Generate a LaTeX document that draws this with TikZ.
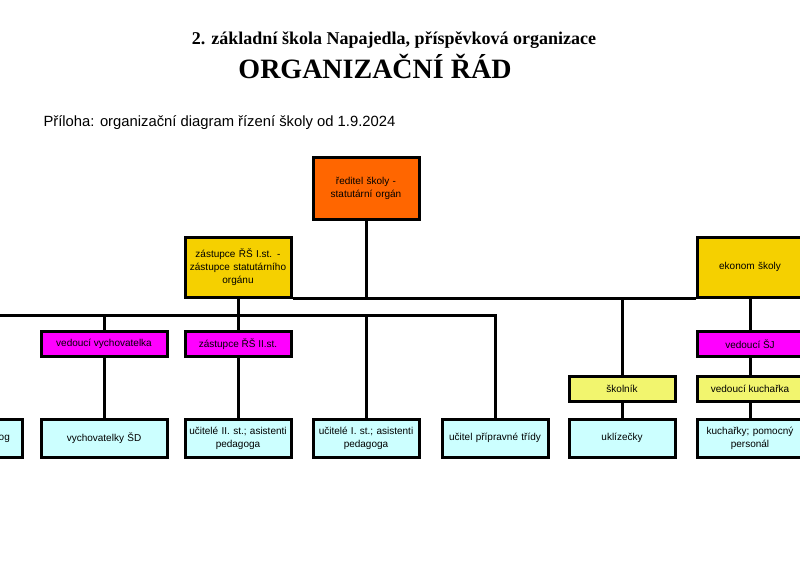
\documentclass[tikz,border=0pt]{standalone}
\usepackage{fontspec}
\setmainfont{Liberation Sans}
\newfontfamily\titlefont{Liberation Serif}
\usetikzlibrary{positioning}
\definecolor{reditelc}{HTML}{FF6600}
\definecolor{zastup}{HTML}{F5D000}
\definecolor{vedouci}{HTML}{FF00FF}
\definecolor{pomoc}{HTML}{F2F56E}
\definecolor{zamest}{HTML}{CCFFFF}
\tikzset{
    box/.style={draw, line width=3pt, minimum width=106pt, align=center,
        font=\fontsize{10}{13}\selectfont, inner sep=1pt},
    big/.style={box, minimum height=60pt, text width=104pt},
    small/.style={box, minimum height=25pt},
    low/.style={box, minimum height=38pt, text width=104pt},
    line/.style={line width=3pt}
}
\begin{document}
\begin{tikzpicture}[x=1pt,y=-1pt]
        \useasboundingbox (0,0) rectangle (800,560);
        \clip (0,0) rectangle (800,560);
        \node (nazev) at (394,40) {\titlefont\bfseries\fontsize{18}{20}\selectfont 2. základní škola Napajedla, příspěvková organizace};
        \node (rad) at (375,66) {\titlefont\bfseries\fontsize{28}{30}\selectfont ORGANIZAČNÍ ŘÁD};
        \node[anchor=west] (priloha) at (40,123) {\fontsize{14.8}{17}\selectfont Příloha: organizační diagram řízení školy od 1.9.2024};

        % vedeni
        \node[big, fill=reditelc, minimum height=62pt] (reditel) at (366,188) {ředitel školy -\\statutární orgán};
        \node[big, fill=zastup] (zrs1) at (238,267) {zástupce ŘŠ I.st. -\\zástupce statutárního\\orgánu};
        \node[big, fill=zastup] (ekonom) at (750,267) {ekonom školy};

        % stredni uroven
        \node[small, fill=vedouci, minimum width=126pt] (vychov) at (104,344) {vedoucí vychovatelka};
        \node[small, fill=vedouci] (zrs2) at (238,344) {zástupce ŘŠ II.st.};
        \node[small, fill=vedouci] (vedsj) at (750,344) {vedoucí ŠJ};
        \node[small, fill=pomoc] (skolnik) at (622,389) {školník};
        \node[small, fill=pomoc] (vedkuch) at (750,389) {vedoucí kuchařka};

        % zamestnanci
        \node[low, fill=zamest] (pedagog) at (-31,438) {speciální pedagog};
        \node[low, fill=zamest, text width=124pt] (vychovSD) at (104,438) {vychovatelky ŠD};
        \node[low, fill=zamest] (ucitele2) at (238,438) {učitelé II. st.; asistenti\\pedagoga};
        \node[low, fill=zamest] (ucitele1) at (366,438) {učitelé I. st.; asistenti\\pedagoga};
        \node[low, fill=zamest] (pripravna) at (495,438) {učitel přípravné třídy};
        \node[low, fill=zamest] (uklid) at (622,438) {uklízečky};
        \node[low, fill=zamest] (kuchar) at (750,438) {kuchařky; pomocný\\personál};

        \coordinate (vetev) at (366,297);
        \coordinate (vetev1) at (238,315);

        \draw[line] (reditel) -- (vetev);
        \draw[line] (zrs1.south east) -- (ekonom.south west);
        \draw[line] (zrs1) -- (vetev1);
        \draw[line] (pedagog.north) |- (vetev1) -| (pripravna.north);
        \draw[line] (vychov) -- (vychov |- vetev1);
        \draw[line] (vetev1) -- (zrs2);
        \draw[line] (ucitele1) -- (ucitele1 |- vetev1);
        \draw[line] (vychov) -- (vychovSD);
        \draw[line] (zrs2) -- (ucitele2);
        \draw[line] (skolnik) -- (skolnik |- ekonom.south);
        \draw[line] (skolnik) -- (uklid);
        \draw[line] (ekonom) -- (vedsj) -- (vedkuch) -- (kuchar);
\end{tikzpicture}
\end{document}
